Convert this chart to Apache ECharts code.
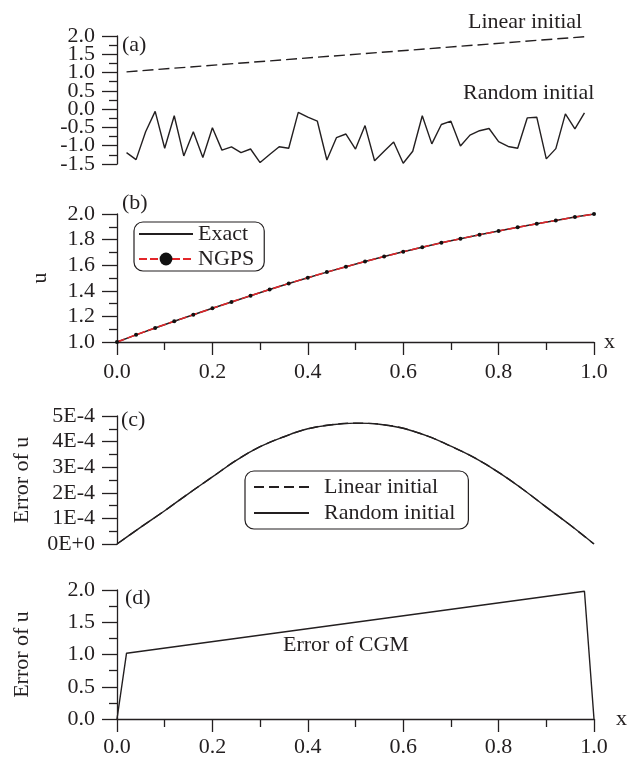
<!DOCTYPE html>
<html>
<head>
<meta charset="utf-8">
<script src="https://cdn.jsdelivr.net/npm/echarts@6/dist/echarts.min.js"></script>
<style>
  html, body { margin: 0; padding: 0; background: #fff; }
  #chart { width: 641px; height: 758px; }
</style>
</head>
<body>
<div id="chart"></div>
<script>
// ---- (a) initial guesses on the interior nodes ----
const xLinear = [0.02, 0.98];
const linearInit = [1.02, 1.98];
const xNodes = [0.02, 0.04, 0.06, 0.08, 0.10, 0.12, 0.14, 0.16, 0.18, 0.20,
                0.22, 0.24, 0.26, 0.28, 0.30, 0.32, 0.34, 0.36, 0.38, 0.40,
                0.42, 0.44, 0.46, 0.48, 0.50, 0.52, 0.54, 0.56, 0.58, 0.60,
                0.62, 0.64, 0.66, 0.68, 0.70, 0.72, 0.74, 0.76, 0.78, 0.80,
                0.82, 0.84, 0.86, 0.88, 0.90, 0.92, 0.94, 0.96, 0.98];
const randomInit = [-1.19, -1.38, -0.62, -0.06, -1.07, -0.18, -1.28, -0.62, -1.32, -0.51,
                    -1.12, -1.03, -1.19, -1.09, -1.46, -1.24, -1.03, -1.07, -0.09, -0.22,
                    -0.33, -1.39, -0.78, -0.68, -1.09, -0.45, -1.41, -1.15, -0.90, -1.48,
                    -1.15, -0.18, -0.95, -0.42, -0.33, -1.01, -0.71, -0.59, -0.53, -0.89,
                    -1.02, -1.07, -0.24, -0.22, -1.36, -1.08, -0.13, -0.54, -0.10];

// ---- (b) exact solution and NGPS result ----
const xB = [0.00, 0.04, 0.08, 0.12, 0.16, 0.20, 0.24, 0.28, 0.32, 0.36, 0.40, 0.44, 0.48,
            0.52, 0.56, 0.60, 0.64, 0.68, 0.72, 0.76, 0.80, 0.84, 0.88, 0.92, 0.96, 1.00];
const uExact = [1.000, 1.056, 1.110, 1.162, 1.213, 1.263, 1.313, 1.362, 1.410, 1.457, 1.502, 1.546, 1.588,
                1.629, 1.668, 1.705, 1.741, 1.775, 1.807, 1.838, 1.867, 1.896, 1.924, 1.950, 1.976, 2.000];
const uNGPS  = [1.000, 1.056, 1.110, 1.162, 1.213, 1.263, 1.313, 1.362, 1.410, 1.457, 1.502, 1.546, 1.588,
                1.629, 1.668, 1.705, 1.741, 1.775, 1.807, 1.838, 1.867, 1.896, 1.924, 1.950, 1.976, 2.000];

// ---- (c) error of u for both starting guesses ----
const xC = [0.00, 0.05, 0.10, 0.15, 0.20, 0.25, 0.30, 0.35, 0.40, 0.45, 0.50,
            0.55, 0.60, 0.65, 0.70, 0.75, 0.80, 0.85, 0.90, 0.95, 1.00];
const errLinear = [0, 0.66e-4, 1.30e-4, 1.97e-4, 2.62e-4, 3.27e-4, 3.80e-4, 4.19e-4, 4.50e-4, 4.66e-4, 4.72e-4,
                   4.68e-4, 4.52e-4, 4.22e-4, 3.82e-4, 3.36e-4, 2.80e-4, 2.15e-4, 1.44e-4, 0.74e-4, 0];
const errRandom = [0, 0.66e-4, 1.30e-4, 1.97e-4, 2.62e-4, 3.27e-4, 3.80e-4, 4.19e-4, 4.50e-4, 4.66e-4, 4.72e-4,
                   4.68e-4, 4.52e-4, 4.22e-4, 3.82e-4, 3.36e-4, 2.80e-4, 2.15e-4, 1.44e-4, 0.74e-4, 0];

// ---- (d) error of CGM ----
const xD = [0.00, 0.02, 0.98, 1.00];
const errCGM = [0.00, 1.02, 1.98, 0.00];

// ---- tick labels ----
const xTicks  = ['0.0', '0.2', '0.4', '0.6', '0.8', '1.0'];
const yTicksA = ['-1.5', '-1.0', '-0.5', '0.0', '0.5', '1.0', '1.5', '2.0'];
const yTicksB = ['1.0', '1.2', '1.4', '1.6', '1.8', '2.0'];
const yTicksC = ['0E+0', '1E-4', '2E-4', '3E-4', '4E-4', '5E-4'];
const yTicksD = ['0.0', '0.5', '1.0', '1.5', '2.0'];

const FONT = '"Liberation Serif", "Times New Roman", serif';
const INK = '#231f20';
const RED = '#e3262a';

const zip = (xs, ys) => xs.map((x, i) => [x, ys[i]]);

function yAxis(gridIndex, min, max, interval, labels, name, nameGap) {
  return {
    type: 'value', gridIndex, min, max, interval,
    name: name || '', nameLocation: 'middle', nameGap: nameGap || 0,
    nameTextStyle: { fontFamily: FONT, fontSize: 22, color: INK },
    axisLine: { show: true, lineStyle: { color: INK, width: 1.3 } },
    axisTick: { show: true, length: 15, lineStyle: { color: INK, width: 1.3 } },
    minorTick: { show: true, splitNumber: 2, length: 8, lineStyle: { color: INK, width: 1.3 } },
    splitLine: { show: false },
    axisLabel: {
      margin: 22, fontFamily: FONT, fontSize: 22, color: INK,
      showMinLabel: true, showMaxLabel: true, hideOverlap: false,
      formatter: v => labels[Math.round((v - min) / interval)]
    }
  };
}

// Panel (a) has tightly packed labels: the inner ones come from the main axis,
// the two end labels from a bare companion axis sharing the same scale.
const yAxisA = yAxis(0, -1.5, 2, 0.5, yTicksA);
yAxisA.axisLabel.showMinLabel = false;
yAxisA.axisLabel.showMaxLabel = false;
const yAxisAEnds = {
  type: 'value', gridIndex: 0, min: -1.5, max: 2, interval: 3.5, position: 'left',
  axisLine: { show: false }, axisTick: { show: false }, splitLine: { show: false },
  axisLabel: {
    margin: 22, fontFamily: FONT, fontSize: 22, color: INK,
    showMinLabel: true, showMaxLabel: true,
    formatter: v => yTicksA[Math.round((v + 1.5) / 0.5)]
  }
};

function xAxis(gridIndex, visible, nameGap, margin) {
  return {
    type: 'value', gridIndex, min: 0, max: 1, interval: 0.2, show: visible,
    name: visible ? 'x' : '', nameLocation: 'end', nameGap: nameGap || 0,
    nameTextStyle: { fontFamily: FONT, fontSize: 22, color: INK, verticalAlign: 'middle' },
    axisLine: { show: true, onZero: false, lineStyle: { color: INK, width: 1.3 } },
    axisTick: { show: true, length: 13, lineStyle: { color: INK, width: 1.3 } },
    minorTick: { show: true, splitNumber: 2, length: 8, lineStyle: { color: INK, width: 1.3 } },
    splitLine: { show: false },
    axisLabel: {
      margin: margin || 16, fontFamily: FONT, fontSize: 22, color: INK,
      formatter: v => xTicks[Math.round(v / 0.2)]
    }
  };
}

const chart = echarts.init(document.getElementById('chart'), null, { renderer: 'canvas' });

const label = (text, x, y) => ({
  type: 'text', x, y,
  style: { text, font: '22px ' + FONT, fill: INK, align: 'left', verticalAlign: 'middle' }
});

// legend entries that show the line sample only
const lineOnly = name => ({ name, itemStyle: { opacity: 0 } });

chart.setOption({
  animation: false,
  backgroundColor: '#fff',
  grid: [
    { left: 117, right: 47, top: 36, height: 128, containLabel: false },
    { left: 117, right: 47, top: 214, height: 128, containLabel: false },
    { left: 117, right: 47, top: 416, height: 128, containLabel: false },
    { left: 117, right: 47, top: 590, height: 129, containLabel: false }
  ],
  xAxis: [xAxis(0, false), xAxis(1, true, 10, 19), xAxis(2, false), xAxis(3, true, 22, 17)],
  yAxis: [
    yAxisA,
    yAxis(1, 1, 2, 0.2, yTicksB, 'u', 66),
    yAxis(2, 0, 5e-4, 1e-4, yTicksC, 'Error of u', 84),
    yAxis(3, 0, 2, 0.5, yTicksD, 'Error of u', 84),
    yAxisAEnds
  ],
  legend: [
    {
      data: [lineOnly('Exact'), 'NGPS'], orient: 'vertical', left: 134, top: 222,
      itemWidth: 54, itemHeight: 16, itemGap: 3, padding: [1, 10, 1, 4],
      borderColor: INK, borderWidth: 1.2, borderRadius: 9, selectedMode: false,
      textStyle: { fontFamily: FONT, fontSize: 22, color: INK, lineHeight: 22 }
    },
    {
      data: [lineOnly('Linear initial'), lineOnly('Random initial')], orient: 'vertical', left: 245, top: 471,
      itemWidth: 55, itemHeight: 14, itemGap: 4, padding: [5, 13, 5, 8],
      borderColor: INK, borderWidth: 1.2, borderRadius: 9, selectedMode: false,
      textStyle: { fontFamily: FONT, fontSize: 22, color: INK, lineHeight: 22, padding: [0, 0, 0, 10] }
    }
  ],
  graphic: [
    label('(a)', 122, 45),
    label('(b)', 122, 203),
    label('(c)', 121, 420),
    label('(d)', 125, 598),
    label('Linear initial', 468, 22),
    label('Random initial', 463, 93),
    label('Error of CGM', 283, 645)
  ],
  series: [
    {
      name: 'u0 linear', type: 'line', xAxisIndex: 0, yAxisIndex: 0, symbol: 'none',
      data: zip(xLinear, linearInit),
      lineStyle: { color: INK, width: 1.4, type: [11, 5] }
    },
    {
      name: 'u0 random', type: 'line', xAxisIndex: 0, yAxisIndex: 0, symbol: 'none',
      data: zip(xNodes, randomInit),
      lineStyle: { color: INK, width: 1.4 }
    },
    {
      name: 'Exact', type: 'line', xAxisIndex: 1, yAxisIndex: 1, symbol: 'none',
      data: zip(xB, uExact), itemStyle: { color: INK },
      lineStyle: { color: INK, width: 1.5 }
    },
    {
      name: 'NGPS', type: 'line', xAxisIndex: 1, yAxisIndex: 1,
      symbol: 'circle', symbolSize: 4, z: 3,
      data: zip(xB, uNGPS), itemStyle: { color: '#111' },
      lineStyle: { color: RED, width: 1.5, type: [8, 3] }
    },
    {
      name: 'Linear initial', type: 'line', xAxisIndex: 2, yAxisIndex: 2, symbol: 'none', smooth: 0.4,
      data: zip(xC, errLinear), itemStyle: { color: INK },
      lineStyle: { color: INK, width: 1.4, type: [10, 5] }
    },
    {
      name: 'Random initial', type: 'line', xAxisIndex: 2, yAxisIndex: 2, symbol: 'none', smooth: 0.4,
      data: zip(xC, errRandom), itemStyle: { color: INK },
      lineStyle: { color: INK, width: 1.4 }
    },
    {
      name: 'Error of CGM', type: 'line', xAxisIndex: 3, yAxisIndex: 3, symbol: 'none',
      data: zip(xD, errCGM),
      lineStyle: { color: INK, width: 1.4 }
    }
  ]
});
</script>
</body>
</html>
